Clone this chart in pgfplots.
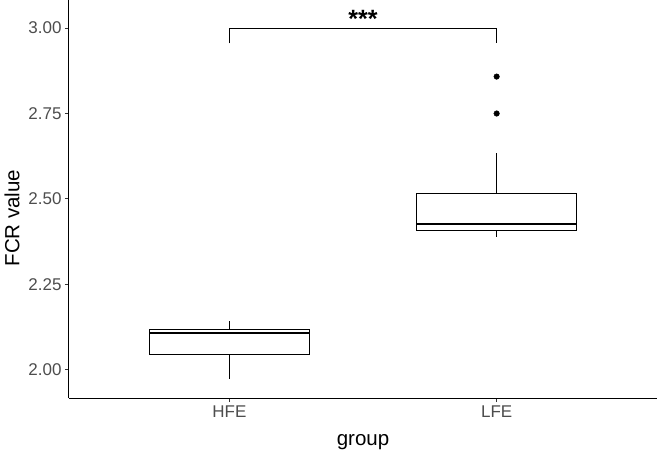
\documentclass[border=0pt]{standalone}
\usepackage{pgfplots}
\pgfplotsset{compat=1.18}
\usepgfplotslibrary{statistics}
\usepackage{fontspec}
\setmainfont{Liberation Sans}
\definecolor{gray30}{HTML}{4D4D4D}
\definecolor{gray20}{HTML}{333333}
\begin{document}
\begin{tikzpicture}
\begin{axis}[
  scale only axis,
  width=588pt, height=398pt,
  xmin=0.4, xmax=2.6,
  ymin=1.918, ymax=3.082,
  axis lines=left,
  axis line style={-, line width=1pt, black},
  tick style={line width=1pt, gray20},
  tick align=outside,
  major tick length=4pt,
  xtick={1,2},
  xticklabels={HFE,LFE},
  ytick={2,2.25,2.5,2.75,3},
  /pgf/number format/assume math mode=true,
  yticklabel style={/pgf/number format/fixed, /pgf/number format/fixed zerofill, /pgf/number format/precision=2},
  ticklabel style={font=\fontsize{17}{17}\selectfont, text=gray30},
  xlabel={group},
  ylabel={FCR value},
  label style={font=\fontsize{20.5}{20.5}\selectfont, text=black},
  xlabel style={at={(axis description cs:0.5,-0.12)}, anchor=base},
  ylabel style={at={(axis description cs:-0.078,0.452)}, anchor=south},
  clip=false,
  boxplot/draw direction=y,
  boxplot/box extend=0.6,
  boxplot/whisker extend=0,
  boxplot/every box/.style={line width=1pt},
  boxplot/every whisker/.style={line width=1pt},
  boxplot/every median/.style={line width=2.2pt},
]
\addplot[black, boxplot prepared={
  draw position=1,
  lower whisker=1.973, lower quartile=2.046, median=2.109,
  upper quartile=2.119, upper whisker=2.144}] coordinates {};
\addplot[black, mark=*, mark size=2.8pt, mark options={fill=black, draw=black}, boxplot prepared={
  draw position=2,
  lower whisker=2.390, lower quartile=2.409, median=2.426,
  upper quartile=2.515, upper whisker=2.635}] table[row sep=\\, y index=0] {2.750\\ 2.858\\};
\addplot[black, line width=1pt, mark=none] coordinates {(1,2.955) (1,3.0) (2,3.0) (2,2.955)};
\node[anchor=base, font=\bfseries\fontsize{25}{25}\selectfont, inner sep=0pt] at (axis cs:1.5,3.0) [yshift=1pt] {***};
\end{axis}
\pgfresetboundingbox
\path[use as bounding box] (current axis.south west) ++(-69pt,-56pt) rectangle (current axis.north east);
\end{tikzpicture}
\end{document}
